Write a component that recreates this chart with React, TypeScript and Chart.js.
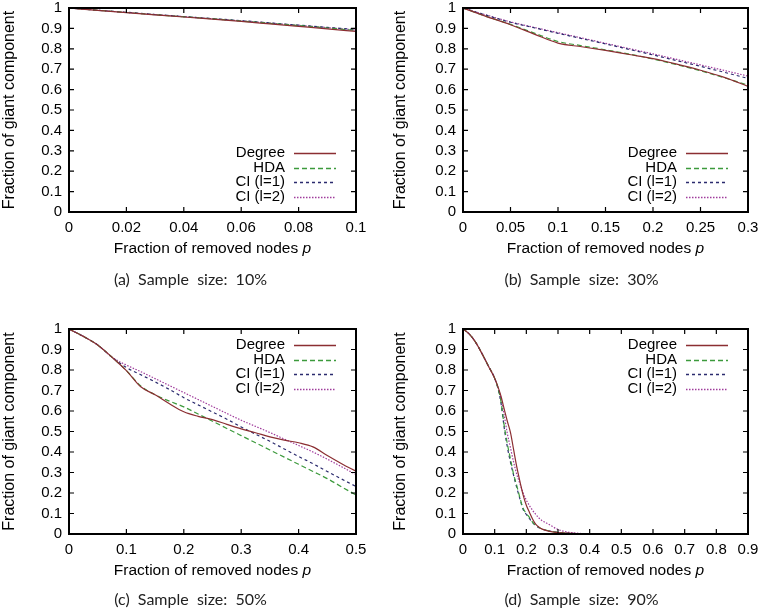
import React, { useEffect, useRef } from "react";
import { Chart, registerables } from "chart.js";

Chart.register(...registerables);

// panel (a) sample size 10%
const aX = [0, 0.01, 0.02, 0.03, 0.04, 0.05, 0.06, 0.07, 0.08, 0.09, 0.1];
const aDegree = [1, 0.988, 0.977, 0.966, 0.956, 0.945, 0.934, 0.922, 0.91, 0.898, 0.885];
const aHDA = [1, 0.989, 0.978, 0.967, 0.957, 0.947, 0.936, 0.925, 0.914, 0.902, 0.89];
const aCI1 = [1, 0.989, 0.979, 0.968, 0.958, 0.948, 0.938, 0.927, 0.916, 0.905, 0.895];
const aCI2 = [1, 0.989, 0.978, 0.968, 0.958, 0.947, 0.937, 0.926, 0.915, 0.904, 0.892];

// panel (b) sample size 30%
const bX = [0, 0.025, 0.05, 0.075, 0.1, 0.125, 0.15, 0.175, 0.2, 0.225, 0.25, 0.275, 0.3];
const bDegree = [1, 0.958, 0.918, 0.872, 0.828, 0.81, 0.792, 0.772, 0.752, 0.725, 0.695, 0.66, 0.616];
const bHDA = [1, 0.958, 0.92, 0.877, 0.836, 0.815, 0.795, 0.774, 0.75, 0.722, 0.692, 0.658, 0.622];
const bCI1 = [1, 0.964, 0.93, 0.903, 0.876, 0.85, 0.824, 0.797, 0.77, 0.742, 0.714, 0.685, 0.655];
const bCI2 = [1, 0.965, 0.932, 0.905, 0.879, 0.853, 0.827, 0.801, 0.775, 0.748, 0.721, 0.694, 0.666];

// panel (c) sample size 50%
const cX = [0, 0.025, 0.05, 0.075, 0.1, 0.125, 0.15, 0.175, 0.2, 0.225, 0.25, 0.275, 0.3, 0.325, 0.35, 0.375, 0.4, 0.425, 0.45, 0.475, 0.5];
const cDegree = [1, 0.964, 0.922, 0.862, 0.797, 0.718, 0.679, 0.635, 0.596, 0.574, 0.558, 0.535, 0.513, 0.494, 0.474, 0.458, 0.445, 0.425, 0.383, 0.343, 0.306];
const cHDA = [1, 0.964, 0.922, 0.862, 0.797, 0.722, 0.679, 0.648, 0.62, 0.585, 0.55, 0.515, 0.48, 0.445, 0.41, 0.375, 0.34, 0.305, 0.27, 0.23, 0.19];
const cCI1 = [1, 0.964, 0.922, 0.862, 0.812, 0.777, 0.742, 0.705, 0.665, 0.63, 0.595, 0.56, 0.522, 0.487, 0.452, 0.415, 0.378, 0.343, 0.305, 0.268, 0.232];
const cCI2 = [1, 0.964, 0.922, 0.862, 0.824, 0.792, 0.758, 0.724, 0.69, 0.656, 0.622, 0.588, 0.555, 0.525, 0.495, 0.463, 0.432, 0.4, 0.365, 0.328, 0.29];

// panel (d) sample size 90%
const dX = [0, 0.02, 0.04, 0.06, 0.08, 0.1, 0.11, 0.12, 0.13, 0.14, 0.15, 0.16, 0.17, 0.18, 0.19, 0.2, 0.21, 0.22, 0.23, 0.24, 0.25, 0.27, 0.3, 0.33, 0.36, 0.4, 0.45, 0.5];
const dDegree = [1, 0.975, 0.935, 0.88, 0.82, 0.76, 0.72, 0.672, 0.61, 0.55, 0.495, 0.41, 0.326, 0.255, 0.19, 0.14, 0.105, 0.072, 0.047, 0.033, 0.024, 0.014, 0.007, 0.004, 0.002, 0.001, 0, 0];
const dHDA = [1, 0.975, 0.935, 0.88, 0.82, 0.76, 0.715, 0.645, 0.53, 0.44, 0.365, 0.29, 0.235, 0.175, 0.125, 0.1, 0.08, 0.057, 0.042, 0.032, 0.025, 0.016, 0.008, 0.004, 0.002, 0.001, 0, 0];
const dCI1 = [1, 0.975, 0.935, 0.88, 0.82, 0.76, 0.713, 0.638, 0.52, 0.425, 0.35, 0.285, 0.225, 0.17, 0.12, 0.095, 0.075, 0.055, 0.04, 0.031, 0.024, 0.015, 0.008, 0.004, 0.002, 0.001, 0, 0];
const dCI2 = [1, 0.975, 0.935, 0.88, 0.82, 0.76, 0.718, 0.66, 0.58, 0.49, 0.42, 0.35, 0.29, 0.245, 0.2, 0.165, 0.138, 0.115, 0.095, 0.078, 0.065, 0.048, 0.022, 0.01, 0.004, 0.001, 0, 0];

const seriesNames = ["Degree", "HDA", "CI (l=1)", "CI (l=2)"];
const yTicks = [0, 0.1, 0.2, 0.3, 0.4, 0.5, 0.6, 0.7, 0.8, 0.9, 1];

const styles = [
  { color: "#8b2e32", dash: [] as number[] },
  { color: "#3c9a3c", dash: [5, 3] },
  { color: "#2b2b6e", dash: [3, 3] },
  { color: "#a03c9c", dash: [1.5, 1.5] },
];

const FONT = "'Liberation Sans', Arial, sans-serif";

// draws the gnuplot style box, inward ticks, x title and in-plot key
const frame = {
  id: "frame",
  afterDatasetsDraw(chart: any, _a: any, opts: any) {
    const { ctx, chartArea: ca, scales } = chart;
    ctx.save();
    ctx.strokeStyle = "#000";
    ctx.lineWidth = 1.2;
    ctx.beginPath();
    scales.x.ticks.forEach((t: any) => {
      const px = scales.x.getPixelForValue(t.value);
      ctx.moveTo(px, ca.bottom);
      ctx.lineTo(px, ca.bottom - 5);
      ctx.moveTo(px, ca.top);
      ctx.lineTo(px, ca.top + 5);
    });
    scales.y.ticks.forEach((t: any) => {
      const py = scales.y.getPixelForValue(t.value);
      ctx.moveTo(ca.left, py);
      ctx.lineTo(ca.left + 5, py);
      ctx.moveTo(ca.right, py);
      ctx.lineTo(ca.right - 5, py);
    });
    ctx.stroke();
    ctx.lineWidth = 2;
    ctx.strokeRect(ca.left, ca.top, ca.right - ca.left, ca.bottom - ca.top);

    // x title with italic p
    ctx.fillStyle = "#000";
    ctx.textBaseline = "middle";
    const main = "Fraction of removed nodes ";
    ctx.font = "15.5px " + FONT;
    const w1 = ctx.measureText(main).width;
    ctx.font = "italic 15.5px " + FONT;
    const w2 = ctx.measureText("p").width;
    const x0 = (ca.left + ca.right) / 2 - (w1 + w2) / 2;
    const ty = ca.bottom + 37;
    ctx.textAlign = "left";
    ctx.font = "15.5px " + FONT;
    ctx.fillText(main, x0, ty);
    ctx.font = "italic 15.5px " + FONT;
    ctx.fillText("p", x0 + w1, ty);

    // key
    ctx.font = "15px " + FONT;
    ctx.textAlign = "right";
    const n = chart.data.datasets.length;
    chart.data.datasets.forEach((ds: any, i: number) => {
      const y = Math.round(opts.pos === "bottom" ? ca.bottom - 15 - (n - 1 - i) * 14.6 : ca.top + 16 + i * 14.6);
      ctx.fillStyle = "#000";
      ctx.fillText(ds.label, ca.right - 71, y);
      ctx.strokeStyle = ds.borderColor;
      ctx.lineWidth = 1.3;
      ctx.setLineDash(ds.borderDash);
      ctx.beginPath();
      ctx.moveTo(ca.right - 62, y + 0.5);
      ctx.lineTo(ca.right - 20, y + 0.5);
      ctx.stroke();
      ctx.setLineDash([]);
    });
    ctx.restore();
  },
};

type PanelProps = {
  xs: number[];
  series: number[][];
  xMax: number;
  xStep: number;
  keyPos: string;
  padLeft: number;
  padRight: number;
  padTop: number;
  padBottom: number;
  yWidth: number;
};

function Panel({ xs, series, xMax, xStep, keyPos, padLeft, padRight, padTop, padBottom, yWidth }: PanelProps) {
  const canvasRef = useRef<HTMLCanvasElement | null>(null);

  useEffect(() => {
    if (!canvasRef.current) return;
    const chart = new Chart(canvasRef.current, {
      type: "line",
      data: {
        datasets: series.map((ys, i) => ({
          label: seriesNames[i],
          data: xs.map((x, j) => ({ x, y: ys[j] })),
          borderColor: styles[i].color,
          borderDash: styles[i].dash,
          borderWidth: 1.2,
          pointRadius: 0,
          cubicInterpolationMode: "monotone" as const,
        })),
      },
      options: {
        animation: false,
        responsive: false,
        layout: { padding: { left: padLeft, right: padRight, top: padTop, bottom: padBottom } },
        plugins: {
          legend: { display: false },
          tooltip: { enabled: false },
          frame: { pos: keyPos },
        } as any,
        scales: {
          x: {
            type: "linear",
            min: 0,
            max: xMax,
            grid: { display: false, drawTicks: false },
            border: { display: false },
            ticks: {
              stepSize: xStep,
              autoSkip: false,
              padding: 7,
              color: "#000",
              font: { family: FONT, size: 15 },
              maxRotation: 0,
              callback: (v: any) => String(Number(Number(v).toFixed(3))),
            },
            afterFit: (s: any) => {
              s.height = 46;
              s.paddingLeft = 0;
              s.paddingRight = 0;
            },
          },
          y: {
            min: 0,
            max: 1,
            grid: { display: false, drawTicks: false },
            border: { display: false },
            afterBuildTicks: (s: any) => {
              s.ticks = yTicks.map((v) => ({ value: v }));
            },
            ticks: {
              autoSkip: false,
              padding: 7,
              color: "#000",
              font: { family: FONT, size: 15 },
              callback: (v: any) => String(Number(Number(v).toFixed(2))),
            },
            title: {
              display: true,
              text: "Fraction of giant component",
              color: "#000",
              font: { family: FONT, size: 16 },
              padding: { top: 0, bottom: 0 },
            },
            afterFit: (s: any) => {
              s.width = yWidth;
              s.paddingTop = 0;
              s.paddingBottom = 0;
            },
          },
        },
      },
      plugins: [frame],
    });
    return () => chart.destroy();
  }, []);

  return <canvas ref={canvasRef} width={381} height={307} style={{ width: 381, height: 307, display: "block" }} />;
}

const captionStyle: React.CSSProperties = {
  position: "absolute",
  width: 381,
  textAlign: "center",
  fontFamily: "Lato, 'Open Sans', sans-serif",
  fontSize: 16,
  color: "#222",
  whiteSpace: "pre",
};

export default function App() {
  return (
    <div style={{ position: "absolute", left: 0, top: 0, width: 762, height: 613, background: "#fff" }}>
      <div style={{ position: "absolute", left: 0, top: 0 }}>
        <Panel xs={aX} series={[aDegree, aHDA, aCI1, aCI2]} xMax={0.1} xStep={0.02} keyPos="bottom" padLeft={0} padRight={25} padTop={8} padBottom={49} yWidth={69} />
      </div>
      <div style={{ position: "absolute", left: 381, top: 0 }}>
        <Panel xs={bX} series={[bDegree, bHDA, bCI1, bCI2]} xMax={0.3} xStep={0.05} keyPos="bottom" padLeft={10} padRight={14} padTop={8} padBottom={49} yWidth={72} />
      </div>
      <div style={{ position: "absolute", left: 0, top: 306 }}>
        <Panel xs={cX} series={[cDegree, cHDA, cCI1, cCI2]} xMax={0.5} xStep={0.1} keyPos="top" padLeft={0} padRight={25} padTop={23} padBottom={33} yWidth={69} />
      </div>
      <div style={{ position: "absolute", left: 381, top: 306 }}>
        <Panel xs={dX} series={[dDegree, dHDA, dCI1, dCI2]} xMax={0.9} xStep={0.1} keyPos="top" padLeft={10} padRight={14} padTop={23} padBottom={33} yWidth={72} />
      </div>
      <div style={{ ...captionStyle, left: 0, top: 269 }}>(a)  Sample  size:  10%</div>
      <div style={{ ...captionStyle, left: 391, top: 269 }}>(b)  Sample  size:  30%</div>
      <div style={{ ...captionStyle, left: 0, top: 589 }}>(c)  Sample  size:  50%</div>
      <div style={{ ...captionStyle, left: 391, top: 589 }}>(d)  Sample  size:  90%</div>
    </div>
  );
}
